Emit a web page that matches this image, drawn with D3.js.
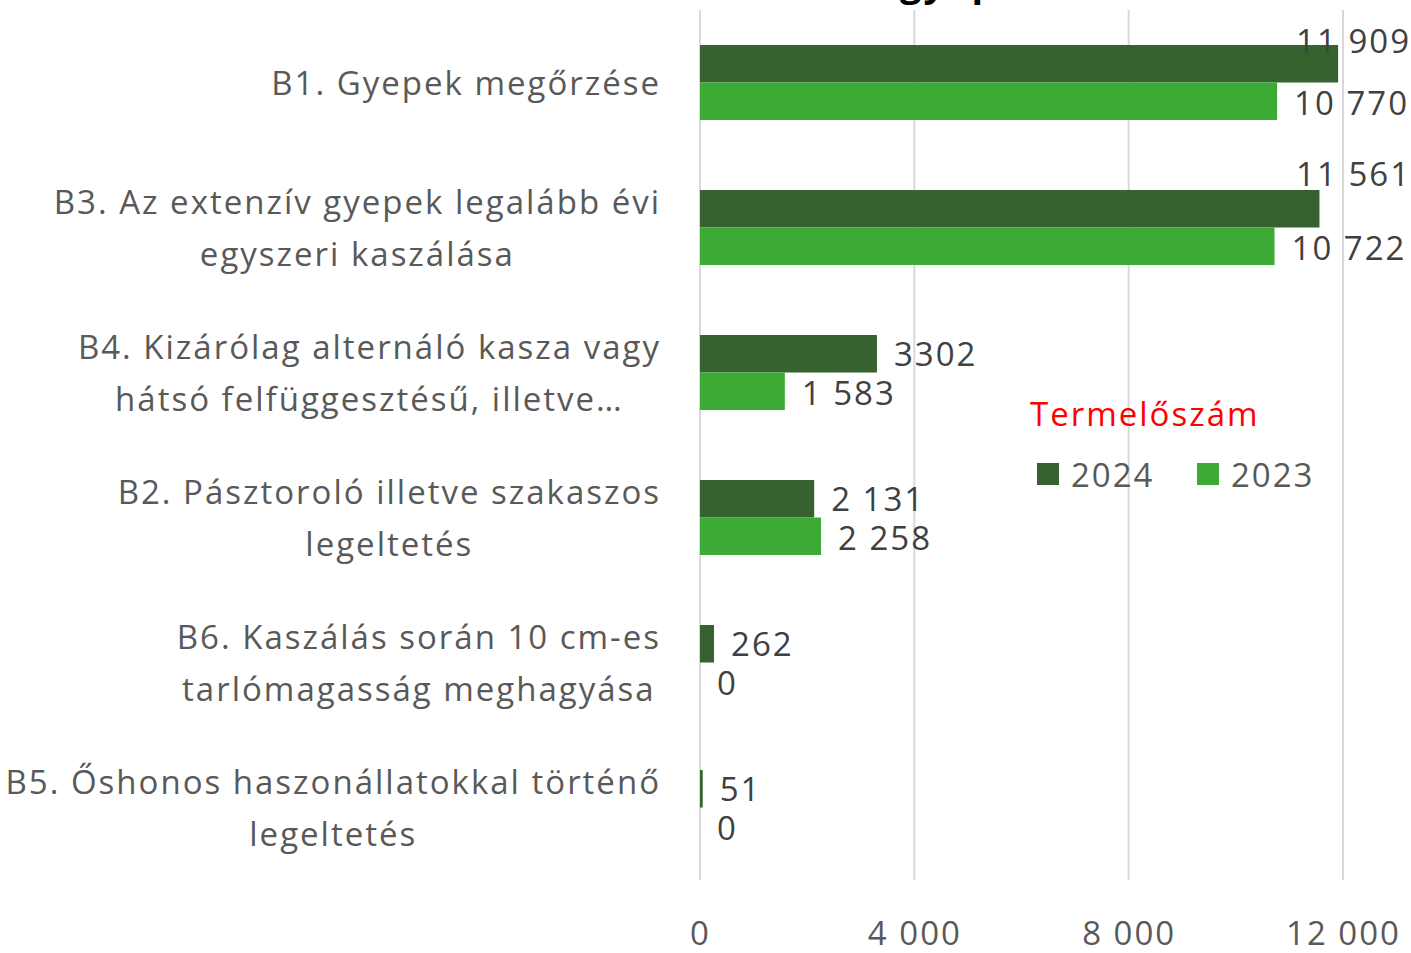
<!DOCTYPE html>
<html><head><meta charset="utf-8">
<script src="https://cdn.jsdelivr.net/npm/d3@7"></script>
<style>
html,body{margin:0;padding:0;background:#fff;}
svg{display:block;font-family:"Open Sans", Lato, sans-serif;}
svg text{letter-spacing:2px;}
</style></head>
<body>
<svg id="c" width="1411" height="953"></svg>
<script>
// ---- data ----
const categories = [
  ["B1. Gyepek megőrzése"],
  ["B3. Az extenzív gyepek legalább évi", "egyszeri kaszálása"],
  ["B4. Kizárólag alternáló kasza vagy", "hátsó felfüggesztésű, illetve…"],
  ["B2. Pásztoroló illetve szakaszos", "legeltetés"],
  ["B6. Kaszálás során 10 cm-es", "tarlómagasság meghagyása"],
  ["B5. Őshonos haszonállatokkal történő", "legeltetés"]
];
const values2024 = [11909, 11561, 3302, 2131, 262, 51];
const values2023 = [10770, 10722, 1583, 2258, 0, 0];
const labels2024 = ["11 909", "11 561", "3302", "2 131", "262", "51"];
const labels2023 = ["10 770", "10 722", "1 583", "2 258", "0", "0"];
const seriesNames = ["2024", "2023"];
const xTicks = [0, 4000, 8000, 12000];
const legendTitle = "Termelőszám";
const chartTitle = "gyepek";

// ---- layout ----
const svg = d3.select("#c");
const pLeft = 700, pRight = 1343, pTop = 10, pBottom = 880;
const FS = 33;
const colors = ["#36622F", "#3CAA35"];
const x = d3.scaleLinear().domain([0, 12000]).range([pLeft, pRight]);
const y = d3.scaleBand().domain(d3.range(categories.length)).range([pTop, pBottom]).paddingInner(0.483).paddingOuter(0.2415);
const bh = y.bandwidth() / 2;

// title (cut off at top edge, as in the reference)
svg.append("text").attr("x", 900).attr("y", -4).attr("font-size", 38).attr("font-weight", "bold")
  .attr("fill", "#000").text(chartTitle);

// gridlines
svg.append("g").selectAll("line").data(xTicks).join("line")
  .attr("x1", d => x(d)).attr("x2", d => x(d)).attr("y1", pTop).attr("y2", pBottom)
  .attr("stroke", "#d9d9d9").attr("stroke-width", 2);

// axis labels
const axis = d3.axisBottom(x).tickValues(xTicks).tickSize(0)
  .tickFormat(d => d3.format(",")(d).replace(/,/g, " "));
const ag = svg.append("g").attr("transform", `translate(0,${pBottom})`).call(axis);
ag.select(".domain").remove();
ag.selectAll("text").attr("font-size", FS).attr("fill", "#595959").attr("dy", 0).attr("y", 65)
  .attr("font-family", "'Open Sans', sans-serif");

// bars
const series = [values2024, values2023];
const slabels = [labels2024, labels2023];
series.forEach((vals, s) => {
  svg.append("g").selectAll("rect").data(vals).join("rect")
    .attr("x", x(0)).attr("y", (d, i) => y(i) + s * bh)
    .attr("width", d => x(d) - x(0)).attr("height", bh)
    .attr("fill", colors[s]);
});

// data labels
const labelRight = 1411;
const nudge2024 = [-23, -35, 0, 0, 0, 0]; // vertical label nudges for crowded labels
series.forEach((vals, s) => {
  const g = svg.append("g");
  vals.forEach((v, i) => {
    const t = g.append("text").attr("font-size", FS).attr("fill", "#404040")
      .attr("dominant-baseline", "central")
      .attr("y", y(i) + s * bh + bh / 2 + (s === 0 ? nudge2024[i] : 1))
      .text(slabels[s][i]);
    const w = t.node().getComputedTextLength();
    let lx = x(v) + 17;
    if (lx + w > labelRight) lx = labelRight - w;
    t.attr("x", lx);
  });
});

// category labels (multi-line blocks right-aligned, lines centred in block)
const cg = svg.append("g");
categories.forEach((lines, i) => {
  const cy = y(i) + y.bandwidth() / 2;
  const lh = 52;
  const ts = lines.map((ln, k) => cg.append("text")
      .attr("text-anchor", "middle")
      .attr("dominant-baseline", "central")
      .attr("y", cy + (k - (lines.length - 1) / 2) * lh)
      .attr("font-size", FS).attr("fill", "#595959")
      .text(ln));
  const maxW = d3.max(ts, t => t.node().getComputedTextLength());
  ts.forEach(t => t.attr("x", 661 - maxW / 2));
});

// legend
svg.append("text").attr("x", 1030).attr("y", 413).attr("dominant-baseline", "central")
  .attr("font-size", FS).attr("fill", "#ff0000").text(legendTitle);
const lx0 = [1037, 1197];
seriesNames.forEach((n, s) => {
  svg.append("rect").attr("x", lx0[s]).attr("y", 463).attr("width", 22).attr("height", 22).attr("fill", colors[s]);
  svg.append("text").attr("x", lx0[s] + 34).attr("y", 474).attr("dominant-baseline", "central")
    .attr("font-size", FS).attr("fill", "#595959").text(n);
});
</script>
</body></html>
